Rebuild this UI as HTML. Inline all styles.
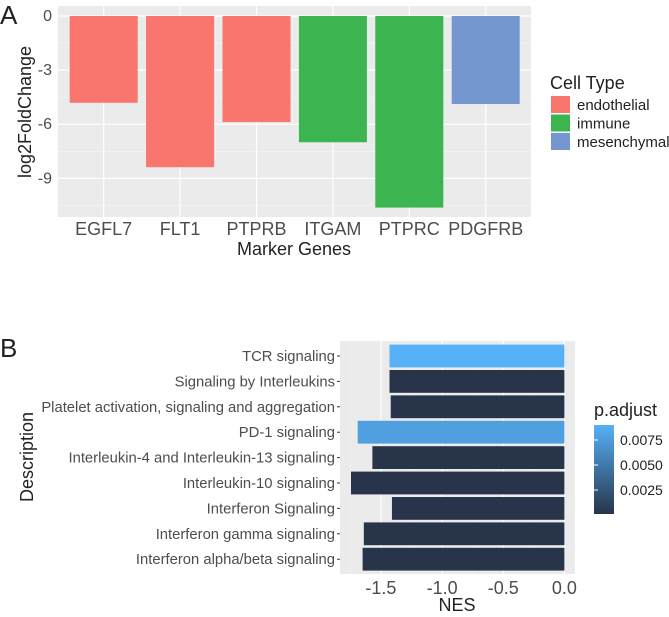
<!DOCTYPE html>
<html><head><meta charset="utf-8"><style>
body{margin:0;background:#fff;}
svg text{font-family:"Liberation Sans",Arial,sans-serif;}
</style></head><body>
<svg id="s" width="669" height="612" xmlns="http://www.w3.org/2000/svg">
<defs><linearGradient id="cb" x1="0" y1="1" x2="0" y2="0">
<stop offset="0" stop-color="#27344A"/><stop offset="1" stop-color="#56B1F7"/></linearGradient></defs>
<text x="0" y="24" font-size="26" fill="#222">A</text>
<rect x="58" y="6" width="473" height="211" fill="#ebebeb"/>
<g id="ga"></g>
<text transform="translate(31,112) rotate(-90)" text-anchor="middle" font-size="18" fill="#222">log2FoldChange</text>
<text x="294" y="255" text-anchor="middle" font-size="18" fill="#222">Marker Genes</text>
<text x="550" y="89" font-size="18" fill="#222">Cell Type</text>
<g id="leg"></g>
<text x="0" y="357" font-size="26" fill="#222">B</text>
<rect x="340" y="341" width="235" height="233" fill="#ebebeb"/>
<g id="gb"></g>
<text transform="translate(33,457) rotate(-90)" text-anchor="middle" font-size="18" fill="#222">Description</text>
<text x="457" y="611" text-anchor="middle" font-size="18" fill="#222">NES</text>
<text x="594" y="416" font-size="18" fill="#222">p.adjust</text>
<rect x="594" y="425" width="20" height="89" fill="url(#cb)"/>
<g id="cbt"></g>
</svg>
<script>
const genes=["EGFL7","FLT1","PTPRB","ITGAM","PTPRC","PDGFRB"];
const lfc=[-4.81,-8.38,-5.88,-7.0,-10.62,-4.88];
const cellType=["endothelial","endothelial","endothelial","immune","immune","mesenchymal"];
const cellTypes=["endothelial","immune","mesenchymal"];
const yTicksA=[0,-3,-6,-9];
const paths=["TCR signaling","Signaling by Interleukins","Platelet activation, signaling and aggregation","PD-1 signaling","Interleukin-4 and Interleukin-13 signaling","Interleukin-10 signaling","Interferon Signaling","Interferon gamma signaling","Interferon alpha/beta signaling"];
const nes=[-1.43,-1.43,-1.42,-1.69,-1.57,-1.745,-1.41,-1.64,-1.65];
const padj=[0.0092,0.0002,0.0002,0.0080,0.0002,0.0002,0.0002,0.0002,0.0002];
const xTicksB=[-1.5,-1.0,-0.5,0.0];
const cbTicks=[0.0025,0.0050,0.0075];
const NS="http://www.w3.org/2000/svg";
const colA={endothelial:"#F8766D",immune:"#3cb550",mesenchymal:"#7497cf"};
function mk(t,a,p){const e=document.createElementNS(NS,t);for(const k in a)e.setAttribute(k,a[k]);p.appendChild(e);return e;}
const ga=document.getElementById('ga');
const yA=v=>16-v*18.04, xA=i=>103.7+i*76.4;
[-1.5,-4.5,-7.5,-10.5].forEach(v=>{const l=mk('line',{x1:58,x2:531,y1:yA(v),y2:yA(v),stroke:'#f5f5f5','stroke-width':0.6},ga);

});
yTicksA.forEach(v=>{const l=mk('line',{x1:58,x2:531,y1:yA(v),y2:yA(v),stroke:'#fff','stroke-width':1.2},ga);


const t=mk('text',{x:52,y:yA(v)+5,'text-anchor':'end','font-size':16,fill:'#4d4d4d'},ga);t.textContent=v;

});
genes.forEach((g,i)=>{const l=mk('line',{x1:xA(i),x2:xA(i),y1:6,y2:217,stroke:'#fff','stroke-width':1.2},ga);

});
genes.forEach((g,i)=>{const w=68;const r=mk('rect',{x:xA(i)-w/2,y:yA(0),width:w,height:yA(lfc[i])-yA(0),fill:colA[cellType[i]]},ga);


const t=mk('text',{x:xA(i),y:235,'text-anchor':'middle','font-size':18,fill:'#4d4d4d'},ga);t.textContent=g;

});
const leg=document.getElementById('leg');
cellTypes.forEach((c,i)=>{const y=96+i*18.5;const r=mk('rect',{x:551,y:y,width:19,height:17,fill:colA[c]},leg);


const t=mk('text',{x:577,y:y+14,'font-size':15,fill:'#222'},leg);t.textContent=c;

});
const gb=document.getElementById('gb');
const xB=v=>564.4+v*122.3, yB=i=>356+i*25.4;
[-1.75,-1.25,-0.75,-0.25].forEach(v=>{const l=mk('line',{x1:xB(v),x2:xB(v),y1:341,y2:574,stroke:'#f5f5f5','stroke-width':0.6},gb);

});
xTicksB.forEach(v=>{const l=mk('line',{x1:xB(v),x2:xB(v),y1:341,y2:574,stroke:'#fff','stroke-width':1.2},gb);


const t=mk('text',{x:xB(v),y:594,'text-anchor':'middle','font-size':18,fill:'#4d4d4d'},gb);t.textContent=v.toFixed(1);

});
function cmix(p){const f=Math.max(0,Math.min(1,(p-0.0002)/(0.0092-0.0002)));const a=[0x27,0x34,0x4A],b=[0x56,0xB1,0xF7];return 'rgb('+a.map((x,k)=>Math.round(x+(b[k]-x)*f)).join(',')+')';}
paths.forEach((p,i)=>{const h=22.8;const r=mk('rect',{x:xB(nes[i]),y:yB(i)-h/2,width:xB(0)-xB(nes[i]),height:h,fill:cmix(padj[i])},gb);


const k=mk('line',{x1:337,x2:340,y1:yB(i),y2:yB(i),stroke:'#333'},gb);


const t=mk('text',{x:335,y:yB(i)+5,'text-anchor':'end','font-size':14.8,fill:'#4d4d4d'},gb);t.textContent=p;

});
const cbt=document.getElementById('cbt');
const yC=v=>465-(v-0.005)*10000;
cbTicks.forEach(v=>{const l=mk('line',{x1:594,x2:598,y1:yC(v),y2:yC(v),stroke:'#fff'},cbt);


const t=mk('text',{x:620,y:yC(v)+5,'font-size':14,fill:'#222'},cbt);t.textContent=v.toFixed(4);

});
</script>
</body></html>
